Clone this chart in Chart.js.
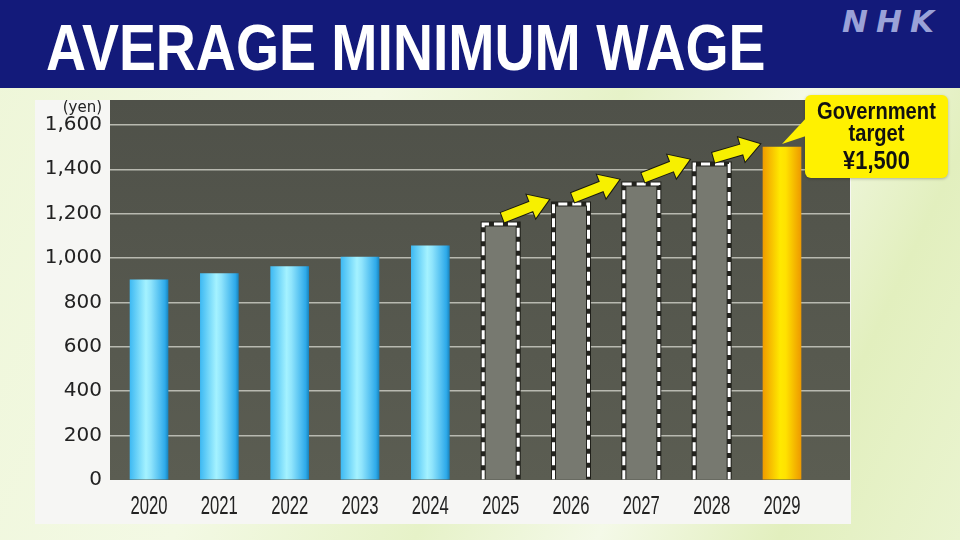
<!DOCTYPE html>
<html>
<head>
<meta charset="utf-8">
<script src="https://cdn.jsdelivr.net/npm/chart.js@4.4.1/dist/chart.umd.min.js"></script>
<style>
  html, body { margin: 0; padding: 0; }
  body {
    width: 960px; height: 540px; overflow: hidden; position: relative;
    background: linear-gradient(115deg, #eef6d8 0%, #f3f9e4 35%, #e6f2c8 55%, #f4f9e8 70%, #e2efbe 85%, #eaf4d0 100%);
  }
  #header { position: absolute; left: 0; top: 0; width: 960px; height: 88px; background: #131a7a; }
  #title {
    position: absolute; left: 46px; top: 16px; margin: 0;
    font: bold 64px/64px 'Liberation Sans', sans-serif;
    color: #fff; white-space: nowrap;
    transform: scaleX(0.866); transform-origin: 0 0;
  }
  #logo {
    position: absolute; left: 842px; top: 6px;
    font: bold oblique 31px/31px 'DejaVu Sans', sans-serif;
    color: #9aa2d8; letter-spacing: 8px;
  }
  #panel { position: absolute; left: 35px; top: 100px; width: 816px; height: 424px; background: #f6f6f4; }
  #wrap { position: absolute; left: 0; top: 0; width: 960px; height: 540px; }
</style>
</head>
<body>
<div id="header"></div>
<h1 id="title">AVERAGE MINIMUM WAGE</h1>
<div id="logo">NHK</div>
<div id="panel"></div>
<div id="wrap"><canvas id="wageChart" width="960" height="540"></canvas></div>
<script>
const years = ['2020', '2021', '2022', '2023', '2024', '2025', '2026', '2027', '2028', '2029'];
const actualWages = [902, 930, 961, 1004, 1055];
const projectedWages = [1160, 1250, 1340, 1430];
const targetWage = [1500];
const yTicks = [0, 200, 400, 600, 800, 1000, 1200, 1400, 1600];
const targetLines = ['Government', 'target', '¥1,500'];

const wages = actualWages.concat(projectedWages, targetWage);
const kinds = years.map((y, i) =>
  i < actualWages.length ? 'actual' : (i < actualWages.length + projectedWages.length ? 'projected' : 'target'));

function barFill(c) {
  const chart = c.chart;
  const kind = kinds[c.dataIndex];
  if (kind === 'projected') return '#777970';
  if (!chart.chartArea || !chart.scales.x) return kind === 'target' ? '#f5b800' : '#4cc3f5';
  const cx = chart.scales.x.getPixelForValue(c.dataIndex);
  const g = chart.ctx.createLinearGradient(cx - 19, 0, cx + 19, 0);
  if (kind === 'target') {
    g.addColorStop(0, '#f09c00');
    g.addColorStop(0.45, '#ffe900');
    g.addColorStop(0.6, '#ffe200');
    g.addColorStop(1, '#ee9a00');
  } else {
    g.addColorStop(0, '#3fbaf3');
    g.addColorStop(0.42, '#a4f2ff');
    g.addColorStop(0.55, '#8fe4fc');
    g.addColorStop(0.92, '#2eaaea');
    g.addColorStop(1, '#1a86c0');
  }
  return g;
}

// the x labels in the original use a condensed face; squeeze the library's own label items
function narrowLabels(sx) {
  return function (area) {
    const ctx = this.ctx;
    const items = this.getLabelItems(area);
    ctx.save();
    for (const it of items) {
      const o = it.options;
      ctx.save();
      ctx.translate(o.translation[0], o.translation[1]);
      ctx.scale(sx, 1);
      ctx.font = it.font.string;
      ctx.fillStyle = o.color;
      ctx.textAlign = o.textAlign;
      ctx.textBaseline = o.textBaseline;
      ctx.fillText(it.label, 0, it.textOffset);
      ctx.restore();
    }
    ctx.restore();
  };
}

// dark plot area, (yen) unit label
const plotBack = {
  id: 'plotBack',
  beforeDraw(chart) {
    const { ctx, chartArea: a } = chart;
    ctx.save();
    const g = ctx.createLinearGradient(0, a.top, 0, a.bottom);
    g.addColorStop(0, '#4f5149');
    g.addColorStop(1, '#5b5d52');
    ctx.fillStyle = g;
    ctx.fillRect(a.left, a.top, a.right - a.left, a.bottom - a.top);
    ctx.fillStyle = '#222';
    ctx.font = '15px "DejaVu Sans", sans-serif';
    ctx.textAlign = 'right';
    ctx.textBaseline = 'middle';
    ctx.fillText('(yen)', a.left - 8, a.top + 8);
    ctx.restore();
  }
};

function drawArrow(ctx, x1, y1, x2, y2) {
  const ang = Math.atan2(y2 - y1, x2 - x1);
  const len = Math.hypot(x2 - x1, y2 - y1);
  const sh = 5, hw = 12.5, hl = 19;
  ctx.save();
  ctx.translate(x1, y1);
  ctx.rotate(ang);
  ctx.beginPath();
  ctx.moveTo(0, -sh);
  ctx.lineTo(len - hl, -sh);
  ctx.lineTo(len - hl, -hw);
  ctx.lineTo(len, 0);
  ctx.lineTo(len - hl, hw);
  ctx.lineTo(len - hl, sh);
  ctx.lineTo(0, sh);
  ctx.closePath();
  ctx.fillStyle = '#f7f000';
  ctx.strokeStyle = '#1a1a10';
  ctx.lineWidth = 2;
  ctx.lineJoin = 'miter';
  ctx.stroke();
  ctx.fill();
  ctx.restore();
}

const decorations = {
  id: 'decorations',
  afterDatasetsDraw(chart) {
    const ctx = chart.ctx;
    const bars = chart.getDatasetMeta(0).data;
    ctx.save();
    // dashed outlines on projected bars
    bars.forEach((b, i) => {
      if (kinds[i] !== 'projected') return;
      const l = b.x - b.width / 2 + 1.5, r = b.x + b.width / 2 - 1.5;
      const path = () => {
        ctx.beginPath();
        ctx.moveTo(l, b.base);
        ctx.lineTo(l, b.y + 1.5);
        ctx.lineTo(r, b.y + 1.5);
        ctx.lineTo(r, b.base);
      };
      path();
      ctx.setLineDash([]);
      ctx.strokeStyle = 'rgba(20,20,15,0.85)';
      ctx.lineWidth = 5;
      ctx.stroke();
      path();
      ctx.setLineDash([9, 5]);
      ctx.strokeStyle = '#ffffff';
      ctx.lineWidth = 3;
      ctx.stroke();
    });
    ctx.setLineDash([]);
    // arrows between projected bars and toward the target
    bars.forEach((b, i) => {
      if (kinds[i] !== 'projected') return;
      const n = bars[i + 1];
      drawArrow(ctx, b.x + 2, b.y - 5, n.x - n.width / 2 - 3, n.y - 3);
    });
    ctx.restore();
  },
  afterDraw(chart) {
    const ctx = chart.ctx;
    const bars = chart.getDatasetMeta(0).data;
    const t = bars[kinds.indexOf('target')];
    const bx = t.x + 23, by = t.y - 52, bw = 143, bh = 83;
    ctx.save();
    ctx.fillStyle = '#fff100';
    ctx.shadowColor = 'rgba(0,0,0,0.25)';
    ctx.shadowBlur = 3;
    ctx.shadowOffsetY = 1;
    ctx.beginPath();
    ctx.roundRect(bx, by, bw, bh, 6);
    ctx.fill();
    ctx.shadowColor = 'transparent';
    ctx.beginPath();
    ctx.moveTo(bx + 4, by + 20);
    ctx.lineTo(t.x, t.y - 3);
    ctx.lineTo(bx + 4, by + 40);
    ctx.closePath();
    ctx.fill();
    ctx.fillStyle = '#111';
    ctx.textAlign = 'center';
    ctx.textBaseline = 'alphabetic';
    const cx = bx + bw / 2;
    const line = (txt, size, y) => {
      ctx.save();
      ctx.translate(cx, y);
      ctx.scale(0.84, 1);
      ctx.font = 'bold ' + size + 'px "Liberation Sans", sans-serif';
      ctx.fillText(txt, 0, 0);
      ctx.restore();
    };
    line(targetLines[0], 24, by + 24);
    line(targetLines[1], 24, by + 46);
    line(targetLines[2], 26, by + 74);
    ctx.restore();
  }
};

new Chart(document.getElementById('wageChart').getContext('2d'), {
  type: 'bar',
  data: {
    datasets: [{
      label: 'Average minimum wage',
      data: wages.map((v, i) => ({ x: i, y: v })),
      backgroundColor: barFill,
      borderWidth: 0,
      barThickness: 38
    }]
  },
  options: {
    responsive: false,
    animation: false,
    layout: { padding: { left: 35, right: 110, top: 100, bottom: 15 } },
    plugins: { legend: { display: false }, tooltip: { enabled: false } },
    scales: {
      x: {
        type: 'linear',
        offset: false,
        min: -0.555,
        max: 9.967,
        afterBuildTicks: s => { s.ticks = years.map((y, i) => ({ value: i })); },
        afterFit: s => { s.height = 45; },
        afterUpdate: s => { s.drawLabels = narrowLabels(0.64); },
        grid: { display: false },
        border: { display: false },
        ticks: {
          autoSkip: false,
          maxRotation: 0,
          padding: 3,
          color: '#222',
          font: { family: '"Liberation Sans", sans-serif', size: 26 },
          callback: v => years[v]
        }
      },
      y: {
        min: 0,
        max: 1712,
        afterBuildTicks: s => { s.ticks = yTicks.map(v => ({ value: v })); },
        afterFit: s => { s.width = 75; },
        border: { display: false },
        grid: {
          drawTicks: false,
          lineWidth: 1.5,
          color: c => c.tick && c.tick.value === 0 ? 'rgba(0,0,0,0)' : '#b8b9b0'
        },
        ticks: {
          padding: 8,
          color: '#222',
          font: { family: '"DejaVu Sans", sans-serif', size: 20 },
          callback: v => v.toLocaleString('en-US')
        }
      }
    }
  },
  plugins: [plotBack, decorations]
});
</script>
</body>
</html>
